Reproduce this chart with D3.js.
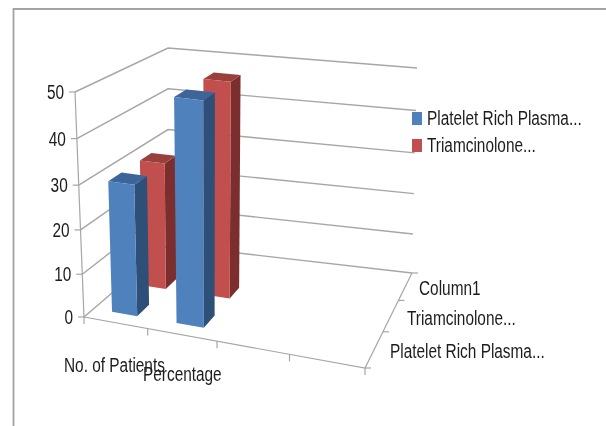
<!DOCTYPE html>
<html><head><meta charset="utf-8">
<script src="https://cdnjs.cloudflare.com/ajax/libs/d3/7.8.5/d3.min.js"></script>
<style>html,body{margin:0;padding:0;background:#fff}svg{display:block}
text{font-family:"Liberation Sans",sans-serif;fill:#1c1c1c;font-size:20px}</style>
</head><body><svg id="c" width="606" height="426"></svg>
<script>
const categories=["No. of Patients","Percentage","",""];
const seriesNames=["Platelet Rich Plasma...","Triamcinolone...","Column1"];
const legendNames=["Platelet Rich Plasma...","Triamcinolone..."];
const plateletValues=[30,50];
const triamcinoloneValues=[30,50];
const valueTicks=[0,10,20,30,40,50];
const seriesColors=[{front:"#4f81bd",side:"#2f5078",top:"#3c659a"},{front:"#c0504d",side:"#7b2f2e",top:"#99403d"}];

const svg=d3.select("#c");
const defs=svg.append("defs");
defs.append("filter").attr("id","soft").append("feGaussianBlur").attr("stdDeviation",0.4);
const uS=d3.scaleLinear().domain([0,1,2,3,4]).range([0,.265,.525,.77,1]);
const vS=d3.scaleLinear().domain([0,seriesNames.length]).range([0,1]);
const wS=d3.scaleLinear().domain(valueTicks).range([0,.19,.387,.586,.793,1]);

function homography(q){
  const [p0,p1,p2,p3]=q;
  const dx1=p1[0]-p2[0],dx2=p3[0]-p2[0],sx=p0[0]-p1[0]+p2[0]-p3[0];
  const dy1=p1[1]-p2[1],dy2=p3[1]-p2[1],sy=p0[1]-p1[1]+p2[1]-p3[1];
  const det=dx1*dy2-dx2*dy1;
  const g=(sx*dy2-dx2*sy)/det,h=(dx1*sy-sx*dy1)/det;
  const a=p1[0]-p0[0]+g*p1[0],b=p3[0]-p0[0]+h*p3[0],c=p0[0];
  const d=p1[1]-p0[1]+g*p1[1],e=p3[1]-p0[1]+h*p3[1],f=p0[1];
  return (u,v)=>{const k=g*u+h*v+1;return [(a*u+b*v+c)/k,(d*u+e*v+f)/k];};
}
const floor=homography([[84,317],[365,368],[412,273],[168,245]]);
const ceil=homography([[75,92],[380,130],[417,68],[168,48]]);
function P(cat,ser,val){
  const u=uS(cat),v=vS(ser),w=wS(val);
  const a=floor(u,v),b=ceil(u,v);
  return [a[0]+(b[0]-a[0])*w,a[1]+(b[1]-a[1])*w];
}
const line=d3.line();
const axisC="#a6a6a6";
const g=svg.append("g").attr("filter","url(#soft)");
function label(x,y,s,anchor){
  g.append("text").attr("transform",`translate(${x},${y}) scale(.77,1)`).attr("text-anchor",anchor||"start").text(s);
}
// frame
g.append("path").attr("d","M606,9H13.5V426").attr("stroke","#a4a4a4").attr("stroke-width",1.8).attr("fill","none");
// walls
const nC=categories.length,nS=seriesNames.length;
valueTicks.forEach(t=>{
  g.append("path").attr("d",line([P(0,0,t),P(0,nS,t),P(nC,nS,t)])).attr("fill","none").attr("stroke",axisC).attr("stroke-width",1.4);
  const p=P(0,0,t);
  g.append("path").attr("d",line([[p[0]-6,p[1]],p])).attr("stroke",axisC).attr("stroke-width",1.2);
  label(p[0]-11,p[1]+7,t,"end");
});
g.append("path").attr("d",line([P(0,0,0),P(0,0,50)])).attr("stroke",axisC).attr("stroke-width",1.2).attr("fill","none");
g.append("path").attr("d",line([P(0,0,0),P(nC,0,0),P(nC,nS,0)])).attr("stroke",axisC).attr("stroke-width",1.2).attr("fill","none");
d3.range(0,nC+1).forEach(i=>{const p=P(i,0,0);g.append("path").attr("d",line([p,[p[0],p[1]+7]])).attr("stroke",axisC).attr("stroke-width",1.2);});
d3.range(0,nS+1).forEach(i=>{const p=P(nC,i,0);g.append("path").attr("d",line([p,[p[0]+6,p[1]]])).attr("stroke",axisC).attr("stroke-width",1.2);});
// bars, back to front
const gap=0.3;
function bar(cat,ser,val,col){
  const u0=cat+gap,u1=cat+1-gap,v0=ser+gap,v1=ser+1-gap;
  const f=[P(u0,v0,0),P(u1,v0,0),P(u1,v0,val),P(u0,v0,val)];
  const s=[P(u1,v0,0),P(u1,v1,0),P(u1,v1,val),P(u1,v0,val)];
  const t=[P(u0,v0,val),P(u1,v0,val),P(u1,v1,val),P(u0,v1,val)];
  [[s,col.side],[t,col.top],[f,col.front]].forEach(([q,c])=>{
    g.append("path").attr("d",line(q)+"Z").attr("fill",c);
  });
}
[[triamcinoloneValues,1],[plateletValues,0]].forEach(([vals,s])=>{
  vals.forEach((v,i)=>bar(i,s,v,seriesColors[s]));
});
// category labels
const catPos=[[64,372],[143,381]];
categories.forEach((c,i)=>{ if(c) label(catPos[i][0],catPos[i][1],c); });
// series labels
const serPos=[[390,358],[407,325],[419,295]];
seriesNames.forEach((s,i)=>label(serPos[i][0],serPos[i][1],s));
// legend
legendNames.forEach((s,i)=>{
  const y=[112,139][i];
  g.append("rect").attr("x",412).attr("y",y).attr("width",10).attr("height",13).attr("fill",seriesColors[i].front);
  label(427,y+13,s);
});
</script></body></html>
